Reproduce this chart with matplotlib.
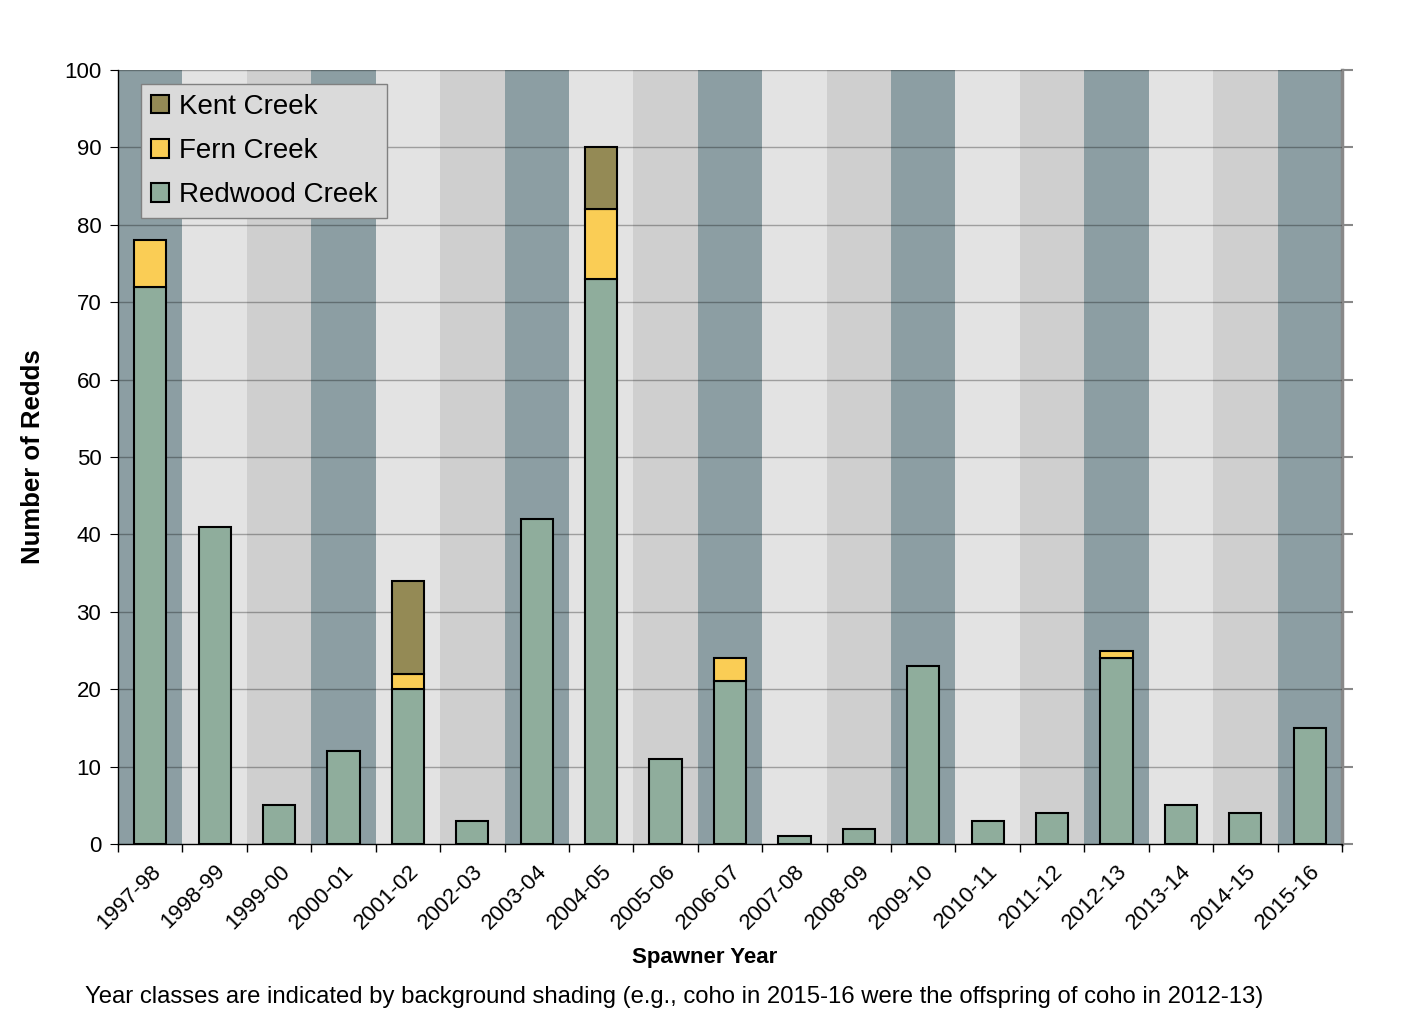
import numpy as np
import matplotlib
matplotlib.use('Agg')
import matplotlib.pyplot as plt
from matplotlib.patches import Patch

plt.rcParams['font.family'] = ['Liberation Sans', 'DejaVu Sans']

years = ['1997-98', '1998-99', '1999-00', '2000-01', '2001-02', '2002-03',
         '2003-04', '2004-05', '2005-06', '2006-07', '2007-08', '2008-09',
         '2009-10', '2010-11', '2011-12', '2012-13', '2013-14', '2014-15',
         '2015-16']
redwood = [72, 41, 5, 12, 20, 3, 42, 73, 11, 21, 1, 2, 23, 3, 4, 24, 5, 4, 15]
fern = [6, 0, 0, 0, 2, 0, 0, 9, 0, 3, 0, 0, 0, 0, 0, 1, 0, 0, 0]
kent = [0, 0, 0, 0, 12, 0, 0, 8, 0, 0, 0, 0, 0, 0, 0, 0, 0, 0, 0]

band_colors = ['#8C9EA3', '#E3E3E3', '#CFCFCF']
c_red = '#8FAD9C'
c_fern = '#FACD55'
c_kent = '#948A55'

fig = plt.figure(figsize=(14.2, 10.28), dpi=100)
ax = fig.add_axes([118 / 1420, 1 - 844 / 1028, (1342 - 118) / 1420, (844 - 70) / 1028])

x = np.arange(len(years))
for i in x:
    ax.axvspan(i - 0.5, i + 0.5, color=band_colors[i % 3], zorder=0, lw=0)

ax.set_ylim(0, 100)
ax.set_xlim(-0.5, len(years) - 0.5)
ax.set_yticks(np.arange(0, 101, 10))
for yv in np.arange(10, 101, 10):
    ax.axhline(yv, color='black', alpha=0.3, lw=1, zorder=1)

red = np.array(redwood)
fe = np.array(fern)
ke = np.array(kent)
w = 0.5
ax.bar(x, red, w, color=c_red, edgecolor='black', lw=1.5, zorder=3)
mask = fe > 0
ax.bar(x[mask], fe[mask], w, bottom=red[mask], color=c_fern, edgecolor='black', lw=1.5, zorder=3)
mask = ke > 0
ax.bar(x[mask], ke[mask], w, bottom=(red + fe)[mask], color=c_kent, edgecolor='black', lw=1.5, zorder=3)

ax.set_xticks(x)
ax.set_xticklabels(years, rotation=45, ha='right', rotation_mode='anchor', fontsize=16)
ax.tick_params(axis='x', which='major', length=0, pad=12)
ax.set_xticks(np.arange(-0.5, len(years)), minor=True)
ax.tick_params(axis='x', which='minor', length=6, width=1, direction='out')
ax.tick_params(axis='y', labelsize=16, length=6, pad=6, direction='out', right=False, colors='black')

ax2 = ax.secondary_yaxis('right')
ax2.set_yticks(np.arange(0, 101, 10))
ax2.tick_params(axis='y', length=8, width=1.5, color='#888888', labelright=False)
ax2.spines['right'].set_color('#888888')
ax2.spines['right'].set_linewidth(2.5)

ax.spines['top'].set_visible(False)
ax.spines['right'].set_visible(False)
ax.spines['left'].set_linewidth(1)
ax.spines['bottom'].set_linewidth(1)

ax.set_ylabel('Number of Redds', fontsize=18.5, fontweight='bold', labelpad=14)
fig.text(705 / 1420, 1 - 957 / 1028, 'Spawner Year', fontsize=16, fontweight='bold',
         ha='center', va='center')

handles = [Patch(facecolor=c_kent, edgecolor='black', lw=1.5, label='Kent Creek'),
           Patch(facecolor=c_fern, edgecolor='black', lw=1.5, label='Fern Creek'),
           Patch(facecolor=c_red, edgecolor='black', lw=1.5, label='Redwood Creek')]
leg = ax.legend(handles=handles, loc='upper left', bbox_to_anchor=(0.019, 0.982),
                fontsize=20, frameon=True, fancybox=False, handlelength=0.65,
                handleheight=0.65, handletextpad=0.35, labelspacing=0.66,
                borderpad=0.35, borderaxespad=0)
leg.get_frame().set_facecolor('#DADADA')
leg.get_frame().set_edgecolor('#808080')
leg.get_frame().set_alpha(1)
leg.set_zorder(5)

fig.text(85 / 1420, 1 - 997 / 1028,
         'Year classes are indicated by background shading (e.g., coho in 2015-16 were the offspring of coho in 2012-13)',
         fontsize=17.2, va='center', ha='left')

fig.savefig('out.png', dpi=100)
